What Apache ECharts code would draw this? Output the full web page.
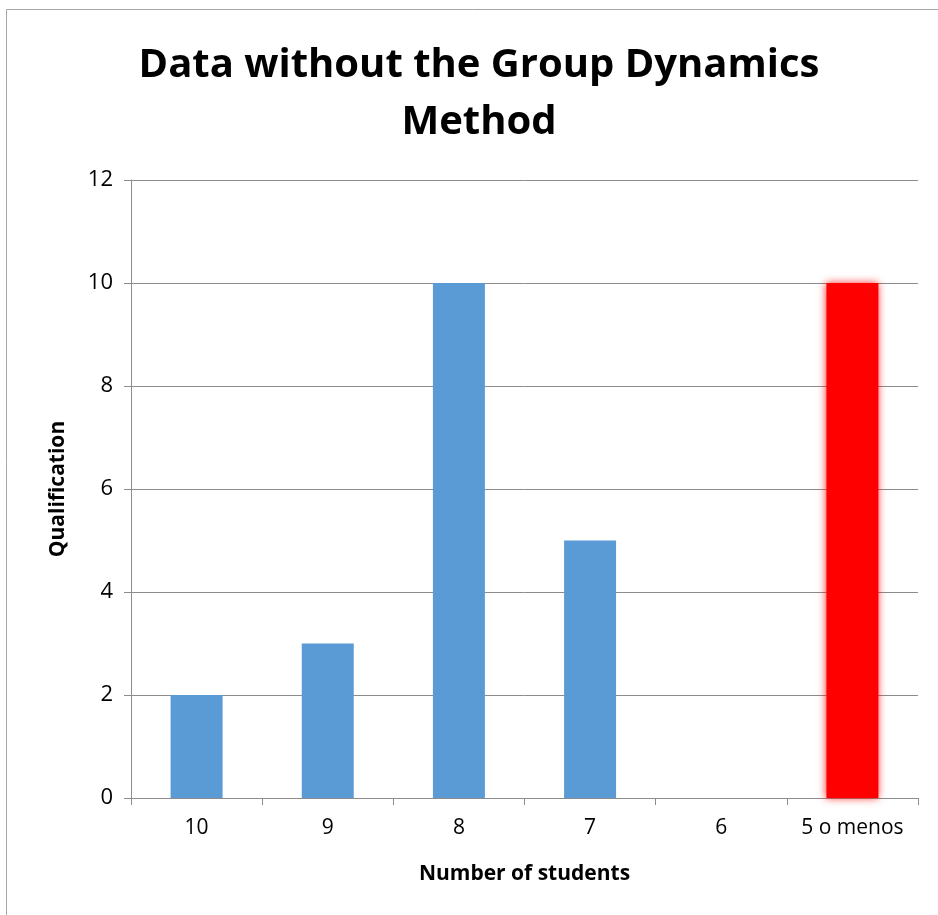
<!DOCTYPE html>
<html>
<head>
<meta charset="utf-8">
<script src="https://cdn.jsdelivr.net/npm/echarts@6/dist/echarts.min.js"></script>
<style>
  html, body { margin: 0; padding: 0; background: #fff; }
  #chart { width: 938px; height: 915px; }
</style>
</head>
<body>
<div id="chart"></div>
<script>
var categories = ['10', '9', '8', '7', '6', '5 o menos'];
var values = [2, 3, 10, 5, 0, 10];
var highlightIndex = 5;

var font = '"Open Sans", "Liberation Sans", sans-serif';
var chart = echarts.init(document.getElementById('chart'));

var barData = values.map(function (v, i) {
  if (i === highlightIndex) {
    return {
      value: v,
      itemStyle: { color: '#ff0000', shadowColor: 'rgba(255,0,0,0.8)', shadowBlur: 8 }
    };
  }
  return v;
});

chart.setOption({
  animation: false,
  title: {
    text: 'Data without the Group Dynamics\nMethod',
    left: 474,
    textAlign: 'center',
    top: 32,
    textStyle: {
      fontFamily: font,
      fontSize: 40,
      fontWeight: 'bold',
      color: '#000',
      lineHeight: 57
    }
  },
  graphic: [{
    type: 'rect',
    shape: { x: 6.5, y: 9.5, width: 960, height: 960 },
    style: { fill: 'none', stroke: '#a6a6a6', lineWidth: 1 }
  }],
  grid: { left: 131, right: 20, top: 180, bottom: 117 },
  xAxis: {
    type: 'category',
    data: categories,
    name: 'Number of students',
    nameLocation: 'middle',
    nameGap: 66,
    nameTextStyle: { fontFamily: font, fontSize: 21, fontWeight: 'bold', color: '#000' },
    axisLine: { lineStyle: { color: '#8c8c8c' } },
    axisTick: { show: true, interval: 0, length: 7, lineStyle: { color: '#8c8c8c' } },
    axisLabel: { interval: 0, hideOverlap: false, fontFamily: font, fontSize: 21, color: '#000', margin: 20 }
  },
  yAxis: {
    type: 'value',
    min: 0,
    max: 12,
    interval: 2,
    name: 'Qualification',
    nameLocation: 'middle',
    nameGap: 62,
    nameTextStyle: { fontFamily: font, fontSize: 21, fontWeight: 'bold', color: '#000' },
    axisLine: { show: true, lineStyle: { color: '#8c8c8c' } },
    axisTick: { show: true, length: 7, lineStyle: { color: '#8c8c8c' } },
    splitLine: { lineStyle: { color: '#8c8c8c' } },
    axisLabel: { fontFamily: font, fontSize: 22, color: '#000', margin: 18 }
  },
  series: [{
    type: 'bar',
    data: barData,
    barWidth: 52,
    itemStyle: { color: '#5b9bd5' }
  }]
});
</script>
</body>
</html>
